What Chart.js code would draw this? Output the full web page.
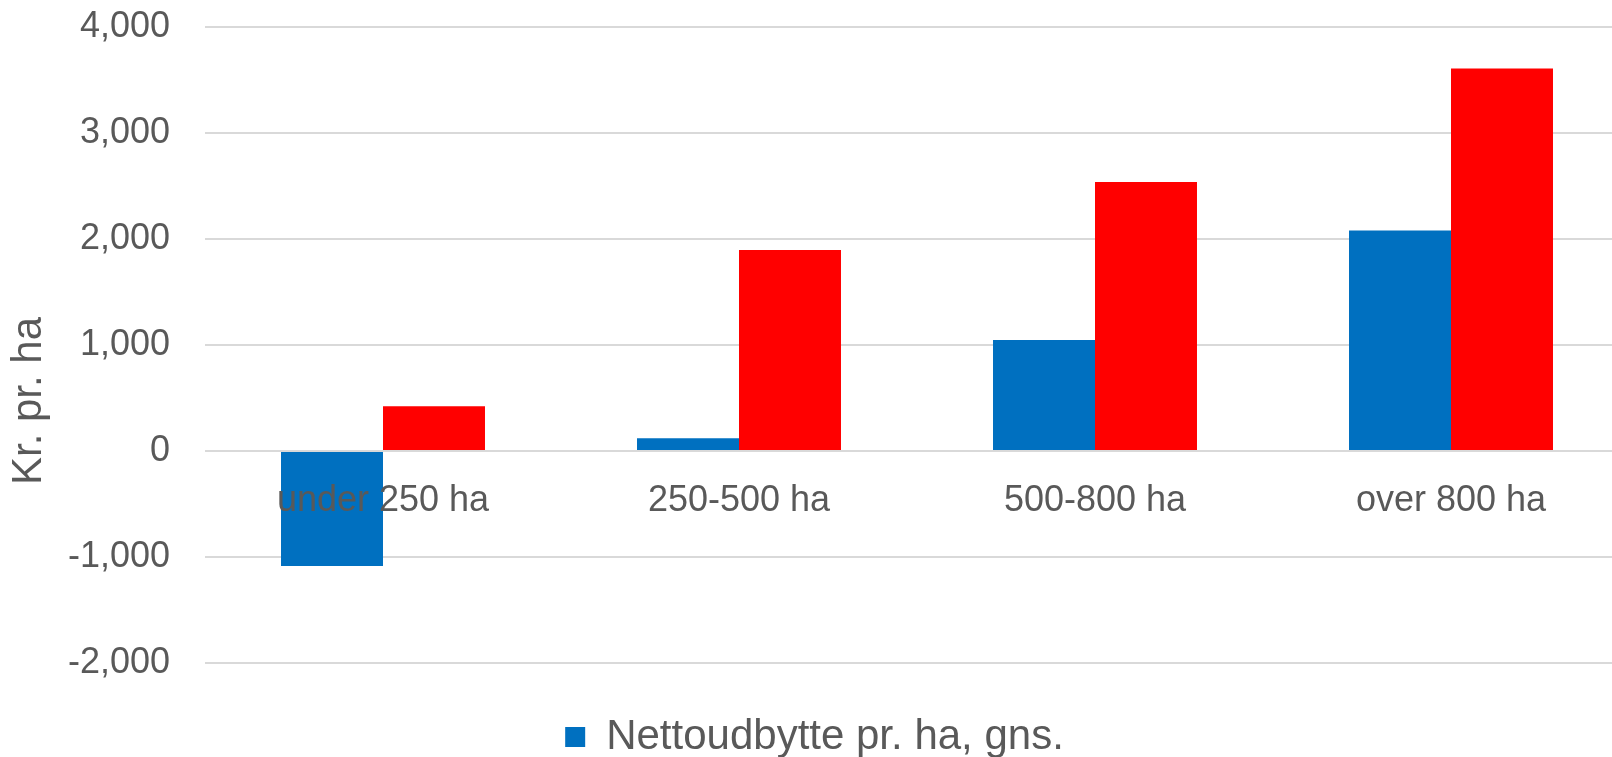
<!DOCTYPE html>
<html>
<head>
<meta charset="utf-8">
<script src="https://cdn.jsdelivr.net/npm/chart.js@4"></script>
<style>
  html, body { margin: 0; padding: 0; background: #fff; overflow: hidden; }
  #wrap { width: 1629px; height: 757px; }
</style>
</head>
<body>
<div id="wrap"><canvas id="chart" width="1629" height="757"></canvas></div>
<script>
const categories = ["under 250 ha", "250-500 ha", "500-800 ha", "over 800 ha"];
const nettoValues = [-1086, 120, 1046, 2080];
const otherValues = [422, 1896, 2538, 3608];
const seriesNames = ["Nettoudbytte pr. ha, gns.", ""];
const yTicks = [-2000, -1000, 0, 1000, 2000, 3000, 4000];
const yTitle = "Kr. pr. ha";

const FONT = "'Liberation Sans', Arial, sans-serif";
const TEXT = "#595959";

// y title drawn by hand, Excel puts it off-centre
const yTitlePlugin = {
    id: "yTitle",
    afterDraw(chart) {
        const ctx = chart.ctx;
        ctx.save();
        ctx.translate(29, 401);
        ctx.rotate(-Math.PI / 2);
        ctx.font = "42px " + FONT;
        ctx.fillStyle = TEXT;
        ctx.textAlign = "center";
        ctx.textBaseline = "middle";
        ctx.fillText(yTitle, 0, 0);
        ctx.restore();
    }
};

new Chart(document.getElementById("chart"), {
    type: "bar",
    data: {
        labels: categories,
        datasets: [
            {
                label: seriesNames[0],
                data: nettoValues,
                backgroundColor: "#0070C0",
                categoryPercentage: 0.573,
                barPercentage: 1.0
            },
            {
                label: seriesNames[1],
                data: otherValues,
                backgroundColor: "#FF0000",
                categoryPercentage: 0.573,
                barPercentage: 1.0
            }
        ]
    },
    options: {
        responsive: false,
        animation: false,
        layout: { padding: { top: 27, bottom: -11, left: 0, right: 0 } },
        plugins: {
            tooltip: { enabled: false },
            legend: {
                position: "bottom",
                labels: {
                    filter: (item) => item.datasetIndex === 0,
                    color: TEXT,
                    font: { family: FONT, size: 42 },
                    boxWidth: 20,
                    boxHeight: 20,
                    padding: 53
                }
            }
        },
        scales: {
            x: {
                position: { y: 0 },
                grid: { display: false, drawTicks: false },
                border: { display: false },
                ticks: {
                    z: 1,
                    color: TEXT,
                    font: { family: FONT, size: 36, lineHeight: 1.2 },
                    padding: 28,
                    maxRotation: 0
                },
                afterFit(scale) { scale.height = 0; }
            },
            y: {
                min: -2000,
                max: 4000,
                afterBuildTicks(scale) {
                    scale.ticks = yTicks.map(v => ({ value: v }));
                },
                // invisible tick marks keep labels off the plot
                grid: { color: "#d9d9d9", lineWidth: 2, drawTicks: true, tickLength: 35, tickColor: "rgba(0,0,0,0)" },
                border: { display: false },
                ticks: {
                    color: TEXT,
                    font: { family: FONT, size: 36 },
                    padding: 0,
                    callback: (v) => v.toLocaleString("en-US")
                },
                afterFit(scale) { scale.width = 205; }
            }
        }
    },
    plugins: [yTitlePlugin]
});
</script>
</body>
</html>
